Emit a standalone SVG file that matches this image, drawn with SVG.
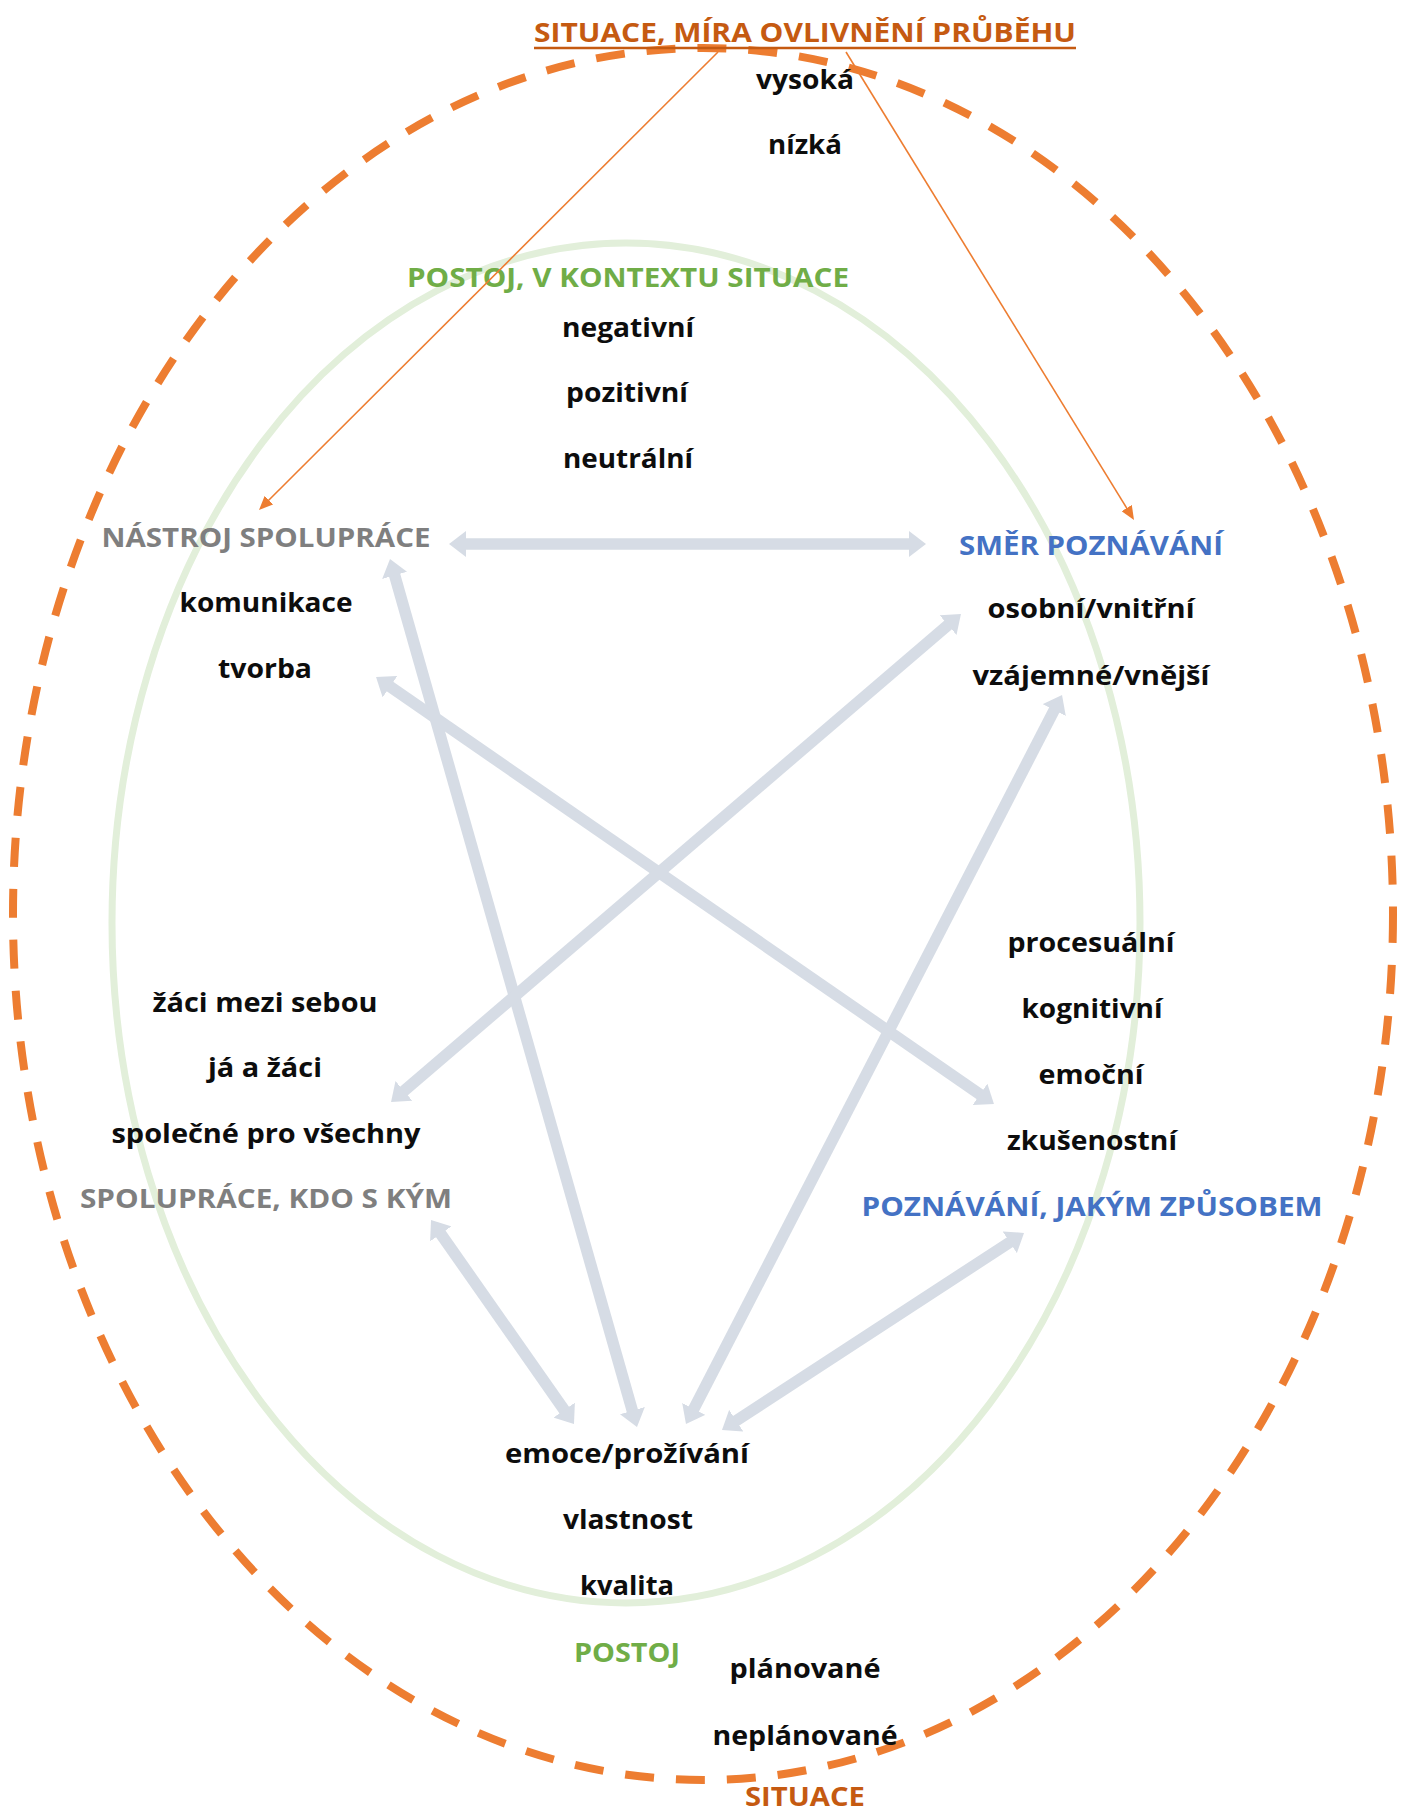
<svg xmlns="http://www.w3.org/2000/svg" width="1408" height="1815" viewBox="0 0 1408 1815">
<style>
.t{font-family:"Open Sans","Liberation Sans",sans-serif;font-weight:700;font-size:27px;text-anchor:middle;fill:#0d0d0d}
.gray{fill:#7F7F7F}.blue{fill:#4472C4}.green{fill:#70AD47}.orange{fill:#C55A11}
.arr{stroke:#D6DCE5;stroke-width:11.5;fill:none;marker-start:url(#gh);marker-end:url(#gh)}
.oarr{stroke:#ED7D31;stroke-width:1.6;fill:none;marker-end:url(#oh)}
</style>
<defs>
<marker id="gh" markerUnits="userSpaceOnUse" markerWidth="17" markerHeight="26" refX="1" refY="13" orient="auto-start-reverse" viewBox="0 0 17 26"><path d="M0,0 L17,13 L0,26 z" fill="#D6DCE5"/></marker>
<marker id="oh" markerUnits="userSpaceOnUse" markerWidth="14" markerHeight="12" refX="1" refY="6" orient="auto" viewBox="0 0 14 12"><path d="M0,0 L14,6 L0,12 z" fill="#ED7D31"/></marker>
</defs>
<rect width="1408" height="1815" fill="#fff"/>
<g id="frames">
<ellipse cx="626" cy="923" rx="514" ry="680" fill="none" stroke="#E2EFDA" stroke-width="7"/>
<ellipse cx="703" cy="914" rx="690" ry="866" fill="none" stroke="#ED7D31" stroke-width="8" stroke-dasharray="29 22"/>
</g>
<g id="connectors">
<line class="arr" x1="465" y1="544" x2="910" y2="544"/>
<line class="arr" x1="394.4" y1="574.4" x2="632.6" y2="1411.6"/>
<line class="arr" x1="389.2" y1="686.1" x2="980.8" y2="1094.9"/>
<line class="arr" x1="948.8" y1="624.4" x2="403.2" y2="1091.6"/>
<line class="arr" x1="1054.7" y1="709.2" x2="693.3" y2="1409.8"/>
<line class="arr" x1="440.2" y1="1233.1" x2="564.8" y2="1410.9"/>
<line class="arr" x1="1010.6" y1="1241.7" x2="735.4" y2="1421.3"/>
</g>
<g id="situace-mira">
<text class="t orange" x="805" y="42" textLength="542" lengthAdjust="spacingAndGlyphs">SITUACE, MÍRA OVLIVNĚNÍ PRŮBĚHU</text>
<line x1="534" y1="48" x2="1076" y2="48" stroke="#C55A11" stroke-width="2.5"/>
<text class="t" x="805" y="89" textLength="98" lengthAdjust="spacingAndGlyphs">vysoká</text>
<text class="t" x="805" y="154" textLength="74" lengthAdjust="spacingAndGlyphs">nízká</text>
</g>
<g id="postoj-kontext">
<text class="t green" x="628" y="287" textLength="442" lengthAdjust="spacingAndGlyphs">POSTOJ, V KONTEXTU SITUACE</text>
<text class="t" x="628" y="337" textLength="132" lengthAdjust="spacingAndGlyphs">negativní</text>
<text class="t" x="627" y="402" textLength="122" lengthAdjust="spacingAndGlyphs">pozitivní</text>
<text class="t" x="628" y="468" textLength="130" lengthAdjust="spacingAndGlyphs">neutrální</text>
</g>
<g id="nastroj-spoluprace">
<text class="t gray" x="266" y="547" textLength="329" lengthAdjust="spacingAndGlyphs">NÁSTROJ SPOLUPRÁCE</text>
<text class="t" x="266" y="612" textLength="173" lengthAdjust="spacingAndGlyphs">komunikace</text>
<text class="t" x="265" y="678" textLength="94" lengthAdjust="spacingAndGlyphs">tvorba</text>
</g>
<g id="smer-poznavani">
<text class="t blue" x="1091" y="555" textLength="264" lengthAdjust="spacingAndGlyphs">SMĚR POZNÁVÁNÍ</text>
<text class="t" x="1091" y="618" textLength="207" lengthAdjust="spacingAndGlyphs">osobní/vnitřní</text>
<text class="t" x="1091" y="685" textLength="237" lengthAdjust="spacingAndGlyphs">vzájemné/vnější</text>
</g>
<g id="spoluprace-kdo">
<text class="t" x="265" y="1012" textLength="225" lengthAdjust="spacingAndGlyphs">žáci mezi sebou</text>
<text class="t" x="265" y="1077" textLength="114" lengthAdjust="spacingAndGlyphs">já a žáci</text>
<text class="t" x="266" y="1143" textLength="309" lengthAdjust="spacingAndGlyphs">společné pro všechny</text>
<text class="t gray" x="266" y="1208" textLength="372" lengthAdjust="spacingAndGlyphs">SPOLUPRÁCE, KDO S KÝM</text>
</g>
<g id="poznavani-zpusob">
<text class="t" x="1091" y="952" textLength="167" lengthAdjust="spacingAndGlyphs">procesuální</text>
<text class="t" x="1092" y="1018" textLength="141" lengthAdjust="spacingAndGlyphs">kognitivní</text>
<text class="t" x="1091" y="1084" textLength="105" lengthAdjust="spacingAndGlyphs">emoční</text>
<text class="t" x="1092" y="1150" textLength="170" lengthAdjust="spacingAndGlyphs">zkušenostní</text>
<text class="t blue" x="1092" y="1216" textLength="461" lengthAdjust="spacingAndGlyphs">POZNÁVÁNÍ, JAKÝM ZPŮSOBEM</text>
</g>
<g id="postoj">
<text class="t" x="627" y="1463" textLength="244" lengthAdjust="spacingAndGlyphs">emoce/prožívání</text>
<text class="t" x="628" y="1529" textLength="130" lengthAdjust="spacingAndGlyphs">vlastnost</text>
<text class="t" x="627" y="1595" textLength="94" lengthAdjust="spacingAndGlyphs">kvalita</text>
<text class="t green" x="627" y="1662" textLength="106" lengthAdjust="spacingAndGlyphs">POSTOJ</text>
</g>
<g id="situace">
<text class="t" x="805" y="1678" textLength="151" lengthAdjust="spacingAndGlyphs">plánované</text>
<text class="t" x="805" y="1745" textLength="185" lengthAdjust="spacingAndGlyphs">neplánované</text>
<text class="t orange" x="805" y="1806" textLength="120" lengthAdjust="spacingAndGlyphs">SITUACE</text>
</g>
<g id="situace-links">
<line class="oarr" x1="718" y1="52" x2="268.2" y2="500.8"/>
<line class="oarr" x1="846" y1="52" x2="1127.2" y2="508.9"/>
</g>
</svg>
